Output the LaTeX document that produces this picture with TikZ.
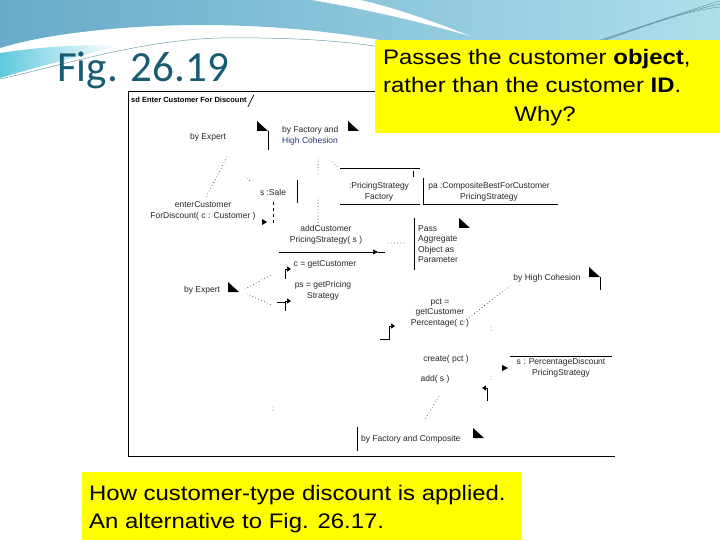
\documentclass[tikz,border=0pt]{standalone}
\usepackage{fontspec}
\usepackage{graphicx}
\setmainfont{Liberation Sans}
\newfontfamily\figfont{Carlito}
\usetikzlibrary{arrows.meta, positioning}

\definecolor{slideblue}{RGB}{104,170,202}
\definecolor{slidecyan}{RGB}{172,224,234}
\definecolor{wedgecyan}{RGB}{96,200,222}
\definecolor{figteal}{RGB}{24,92,116}
\definecolor{hiyellow}{RGB}{255,255,0}
\definecolor{cohblue}{RGB}{36,56,120}

\newcommand{\stretchtxt}[1]{\scalebox{1.14}[1]{#1}}

\begin{document}
\begin{tikzpicture}[x=1pt, y=-1pt,
    txt/.style={font=\fontsize{8.5}{10.5}\selectfont, text=black!85, inner sep=0pt, align=center},
    ltxt/.style={txt, align=left},
    big/.style={font=\fontsize{21}{25}\selectfont, inner sep=0pt},
    bar/.style={line width=0.6pt},
    link/.style={line width=0.9pt, line cap=round, dash pattern=on 0pt off 3.2pt, black!80},
    flag/.style={bar, -{Triangle[length=4pt, width=5pt]}}]
  \useasboundingbox (0,0) rectangle (720,540);

  % slide background
  \fill[white] (0,0) rectangle (720,540);
  \shade[left color=slideblue, right color=slidecyan]
    (0,0) -- (720,0) -- (720,40) -- (380,40) .. controls (300,26) and (200,20) .. (100,30)
    .. controls (50,35) and (20,42) .. (0,48) -- cycle;
  \fill[white] (312,0) .. controls (370,10) and (420,22) .. (470,36)
    .. controls (420,16) and (380,4) .. (360,0) -- cycle;
  \shade[left color=wedgecyan, right color=white]
    (0,53) .. controls (40,47) and (80,44) .. (118,46) .. controls (80,56) and (40,66) .. (0,78) -- cycle;
  \draw[figteal!60, line width=0.5pt] (0,79) .. controls (60,66) and (140,40) .. (220,38)
    .. controls (300,37) and (350,42) .. (380,47);
  \foreach \d in {0,3,6}
    \draw[figteal!70, line width=0.4pt] (600+\d,40) .. controls (650,24) and (690,10) .. (720,1+\d);

  \node[font=\figfont\fontsize{43}{48}\selectfont, text=figteal, anchor=base west, inner sep=0pt]
    (fig) at (57,82) {Fig. 26.19};

  % frame of the sequence diagram
  \draw[bar] (375,91) -- (128,91) -- (128,456) -- (615,456);
  \node[font=\bfseries\fontsize{7.5}{9}\selectfont, anchor=west, inner sep=0pt]
    (sd) at (131,100) {sd Enter Customer For Discount};
  \draw[bar] (sd.east) ++(1,7) -- ++(6,-12);

  % notes: folded corners and edges
  \foreach \x/\y in {257/121, 348/121, 459/218, 589/267, 228/282, 473/428}
    \fill (\x,\y) -- ++(0,10) -- ++(11,0) -- cycle;
  \draw[bar] (268,131) -- (268,150);
  \draw[bar] (600,277) -- (600,290);
  \draw[bar] (414,218) -- (414,270);
  \draw[bar] (357,427) -- (357,451);

  \node[txt] (expA) at (208,137) {by Expert};
  \node[ltxt, anchor=west] (facA) at (282,136) {by Factory and\\\textcolor{cohblue}{High Cohesion}};
  \node[ltxt, anchor=west, font=\fontsize{8.5}{10.3}\selectfont] (pass) at (418,244) {Pass\\Aggregate\\Object as\\Parameter};
  \node[txt] (hic) at (547,278) {by High Cohesion};
  \node[txt] (expB) at (202,290) {by Expert};
  \node[txt, anchor=west] (fac) at (361,439) {by Factory and Composite};

  % participants
  \node[txt] (sale) at (273,192) {s :Sale};
  \draw[bar] (297,180) -- (297,203);
  \draw[bar, dashed] (273,202) -- (273,224);
  \node[txt] (psf) at (379,192) {:PricingStrategy\\Factory};
  \draw[bar] (340,168) -- (420,168);
  \draw[bar] (413,171) -- (413,177);
  \draw[bar] (340,204) -- (420,204);
  \node[txt] (pa) at (489,192) {pa :CompositeBestForCustomer\\PricingStrategy};
  \draw[bar] (423,178) -- (423,204) -- (558,204);
  \node[txt] (pds) at (561,368) {s : PercentageDiscount\\PricingStrategy};
  \draw[bar] (510,356) -- (612,356);
  \fill (502,365) -- (508,368) -- (502,371) -- cycle;

  % messages
  \node[txt] (enter) at (203,211) {enterCustomer\\ForDiscount( c : Customer )};
  \fill (262,219) -- (267,222) -- (262,225) -- cycle;
  \node[txt] (add) at (326,235) {addCustomer\\PricingStrategy( s )};
  \coordinate (addL) at (279,252);
  \coordinate (addM) at (378,252);
  \coordinate (addR) at (385,252);
  \draw[bar, -{Triangle[length=5pt, width=5pt]}] (addL) -- (addM);
  \draw[bar] (addM) -- (addR);
  \node[txt] (getc) at (325,264) {c = getCustomer};
  \draw[flag] (285,279) -- (285,269) -- (291,269);
  \node[txt] (getps) at (323,291) {ps = getPricing\\Strategy};
  \draw[bar] (277,302) -- (285,302);
  \draw[flag] (285,311) -- (285,301) -- (291,301);
  \node[txt] (pct) at (440,313) {pct =\\getCustomer\\Percentage( c )};
  \draw[flag] (380,339) -- (389,339) -- (389,326) -- (395,326);
  \node[txt] (create) at (446,359) {create( pct )};
  \node[txt] (adds) at (435,379) {add( s )};
  \draw[flag] (487,401) -- (487,388) -- (482,388);

  % anchors of the notes
  \coordinate (a1) at (227,157);  \coordinate (a2) at (205,199);
  \coordinate (b1) at (318,158);  \coordinate (b2) at (318,176);
  \coordinate (b3) at (318,197);  \coordinate (b4) at (318,224);
  \coordinate (b5) at (330,160);  \coordinate (b6) at (338,167);
  \coordinate (c1) at (388,243);  \coordinate (c2) at (404,243);
  \coordinate (d1) at (245,289);  \coordinate (d2) at (273,274);
  \coordinate (d3) at (247,294);  \coordinate (d4) at (272,305);
  \coordinate (e1) at (510,286);  \coordinate (e2) at (462,323);
  \coordinate (f1) at (424,421);  \coordinate (f2) at (439,396);
  \draw[link] (a1) -- (a2);
  \draw[link] (245,176) -- (250,181);
  \draw[link] (b1) -- (b2);
  \draw[link] (b3) -- (b4);
  \draw[link] (b5) -- (b6);
  \draw[link] (c1) -- (c2);
  \draw[link] (d1) -- (d2);
  \draw[link] (d3) -- (d4);
  \draw[link] (e1) -- (e2);
  \draw[link] (491,327) -- (491,332);
  \draw[link] (491,376) -- (491,381);
  \draw[link] (f1) -- (f2);
  \draw[link] (273,407) -- (273,413);

  % yellow call-outs
  \fill[hiyellow] (375,40) rectangle (720,133);
  \node[big, anchor=base west] (q1) at (383,65) {\stretchtxt{Passes the customer \textbf{object},}};
  \node[big, anchor=base west] (q2) at (383,93) {\stretchtxt{rather than the customer \textbf{ID}.}};
  \node[big, anchor=base] (q3) at (545,122) {\stretchtxt{Why?}};
  \fill[hiyellow] (82,472) rectangle (522,540);
  \node[big, anchor=base west] (h1) at (89,500) {\stretchtxt{How customer-type discount is applied.}};
  \node[big, anchor=base west] (h2) at (89,528) {\stretchtxt{An alternative to Fig. 26.17.}};
\end{tikzpicture}
\end{document}
